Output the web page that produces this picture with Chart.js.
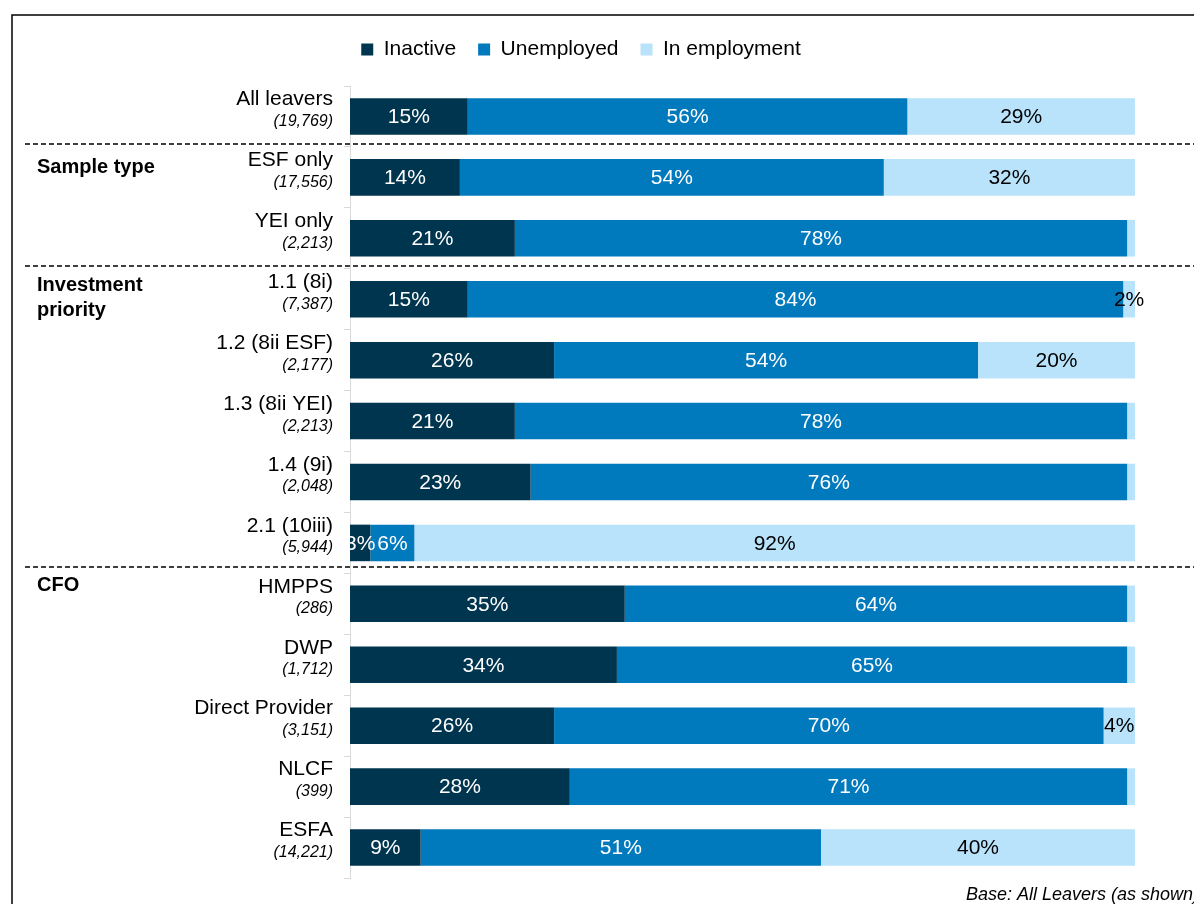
<!DOCTYPE html>
<html>
<head>
<meta charset="utf-8">
<script src="https://cdn.jsdelivr.net/npm/chart.js@4.4.1/dist/chart.umd.min.js"></script>
<style>
  html, body { margin: 0; padding: 0; background: #fff; overflow: hidden; }
  #wrap { position: relative; width: 1194px; height: 904px; }
</style>
</head>
<body>
<div id="wrap"><canvas id="chart"></canvas></div>
<script>
// Categories and bases (shown in italics under each name)
const categories = ["All leavers", "ESF only", "YEI only", "1.1 (8i)", "1.2 (8ii ESF)", "1.3 (8ii YEI)", "1.4 (9i)", "2.1 (10iii)", "HMPPS", "DWP", "Direct Provider", "NLCF", "ESFA"];
const baseCounts = ["(19,769)", "(17,556)", "(2,213)", "(7,387)", "(2,177)", "(2,213)", "(2,048)", "(5,944)", "(286)", "(1,712)", "(3,151)", "(399)", "(14,221)"];

// Shares per category (%)
const inactive = [15, 14, 21, 15, 26, 21, 23, 2.6, 35, 34, 26, 28, 9];
const unemployed = [56, 54, 78, 83.5, 54, 78, 76, 5.6, 64, 65, 70, 71, 51];
const inEmployment = [29, 32, 1, 1.5, 20, 1, 1, 91.8, 1, 1, 4, 1, 40];

// Section headings and the first category of each section
const sectionTitles = [["Sample type"], ["Investment", "priority"], ["CFO"]];
const sectionStarts = [1, 3, 8];

const FONT = "Arial, 'Liberation Sans', sans-serif";
const colors = ["#00354f", "#0079bd", "#b9e3fb"];

// extra space under the legend
const legendGap = {
  id: "legendGap",
  beforeInit(chart) {
    if (!chart.legend) return;
    const fit = chart.legend.fit;
    chart.legend.fit = function () {
      fit.bind(chart.legend)();
      this.height += 16;
    };
  }
};

// Frame, category labels, section headings, dashed separators, footer
const decorations = {
  id: "decorations",
  beforeDraw(chart) {
    const ctx = chart.ctx;
    ctx.save();
    ctx.strokeStyle = "#000";
    ctx.lineWidth = 1.5;
    ctx.beginPath();
    ctx.moveTo(12, 904);
    ctx.lineTo(12, 15);
    ctx.lineTo(1194, 15);
    ctx.stroke();
    ctx.restore();
  },
  afterDraw(chart) {
    const ctx = chart.ctx;
    const y = chart.scales.y;
    ctx.save();
    ctx.textAlign = "right";
    ctx.textBaseline = "middle";
    ctx.fillStyle = "#000";
    categories.forEach((c, i) => {
      const py = y.getPixelForValue(i);
      ctx.font = "21px " + FONT;
      ctx.fillText(c, 333, py - 17);
      ctx.font = "italic 16px " + FONT;
      ctx.fillText(baseCounts[i], 333, py + 5);
    });

    // section headings
    const nudge = [-10, -14, -18];
    ctx.textAlign = "left";
    ctx.font = "bold 20px " + FONT;
    sectionTitles.forEach((lines, s) => {
      const py = y.getPixelForValue(sectionStarts[s]) + nudge[s];
      lines.forEach((l, k) => ctx.fillText(l, 37, py + k * 25));
    });

    // dashed separators
    const lift = [3, 3, 6];
    ctx.strokeStyle = "#000";
    ctx.lineWidth = 1.5;
    ctx.setLineDash([5, 3]);
    sectionStarts.forEach((i, s) => {
      const py = Math.round((y.getPixelForValue(i - 1) + y.getPixelForValue(i)) / 2) - lift[s];
      ctx.beginPath();
      ctx.moveTo(25, py);
      ctx.lineTo(1194, py);
      ctx.stroke();
    });
    ctx.setLineDash([]);

    ctx.font = "italic 18px " + FONT;
    ctx.fillText("Base: All Leavers (as shown)", 966, 895);
    ctx.restore();
  }
};

// Percent labels in the bar segments
const barLabels = {
  id: "barLabels",
  afterDatasetsDraw(chart) {
    const ctx = chart.ctx;
    ctx.save();
    ctx.font = "21px " + FONT;
    ctx.textAlign = "center";
    ctx.textBaseline = "middle";
    chart.data.datasets.forEach((ds, di) => {
      const meta = chart.getDatasetMeta(di);
      meta.data.forEach((bar, i) => {
        const v = Math.round(ds.data[i]);
        if (v < 2) return;
        ctx.fillStyle = di === 2 ? "#000" : "#fff";
        ctx.fillText(v + "%", (bar.x + bar.base) / 2, bar.y + 1);
      });
    });
    ctx.restore();
  }
};

new Chart(document.getElementById("chart"), {
  type: "bar",
  data: {
    labels: categories,
    datasets: [
      { label: "Inactive", data: inactive, backgroundColor: colors[0] },
      { label: "Unemployed", data: unemployed, backgroundColor: colors[1] },
      { label: "In employment", data: inEmployment, backgroundColor: colors[2] }
    ]
  },
  options: {
    indexAxis: "y",
    responsive: true,
    maintainAspectRatio: false,
    animation: false,
    layout: { padding: { left: 27, right: 59, top: 17, bottom: 26 } },
    datasets: { bar: { categoryPercentage: 1, barPercentage: 0.6, borderWidth: 0 } },
    scales: {
      x: { stacked: true, min: 0, max: 100, display: false },
      y: {
        stacked: true,
        ticks: { display: false },
        grid: { drawOnChartArea: false, drawTicks: true, tickLength: 6, color: "#d9d9d9", offset: true },
        border: { display: true, color: "#d9d9d9" },
        afterFit(scale) { scale.width = 323; }
      }
    },
    plugins: {
      legend: {
        position: "top",
        labels: { boxWidth: 12, boxHeight: 12, padding: 22, color: "#000", font: { size: 21, family: FONT } }
      },
      tooltip: { enabled: false }
    }
  },
  plugins: [legendGap, decorations, barLabels]
});
</script>
</body>
</html>
